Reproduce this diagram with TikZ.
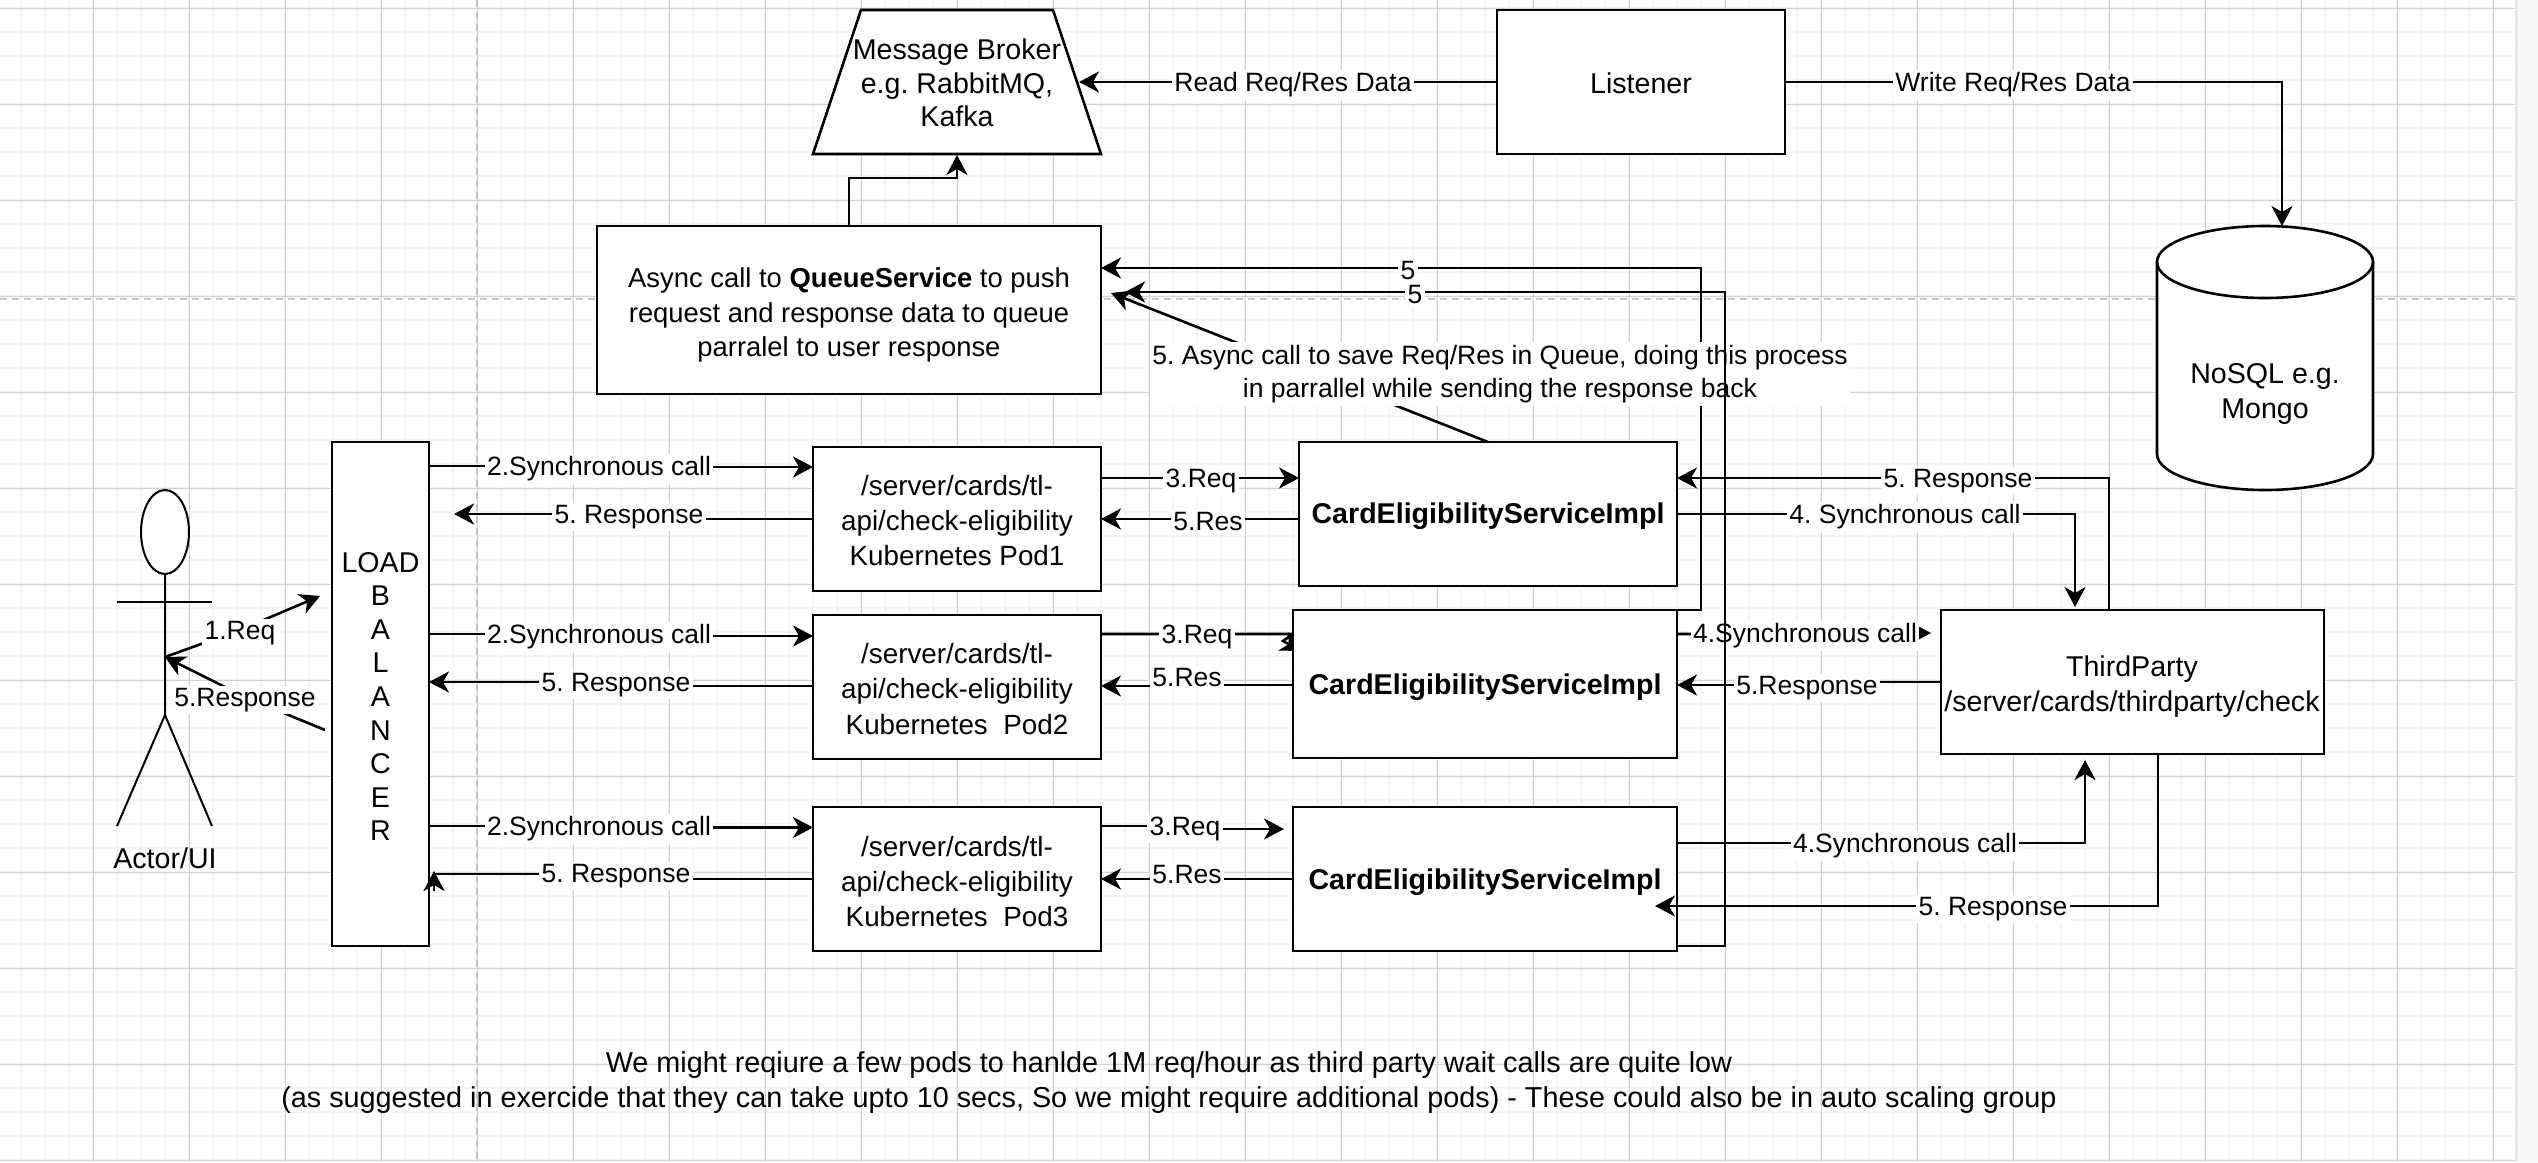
\documentclass[tikz,border=0pt]{standalone}
\usepackage{fontspec}
\setmainfont{Liberation Sans}
\usetikzlibrary{arrows.meta,shapes.geometric}
\pgfdeclarelayer{gridlayer}
\pgfdeclarelayer{backlayer}
\pgfsetlayers{gridlayer,backlayer,main}
\definecolor{gridmajor}{HTML}{D0D0D0}
\definecolor{gridminor}{HTML}{F5F5F5}
\definecolor{dashgray}{HTML}{C4C4C4}
\definecolor{sideband}{HTML}{F7F8FA}
\definecolor{sideedge}{HTML}{E8E8E8}
\newcommand{\bigfont}{\fontsize{14.3pt}{17.5pt}\selectfont}
\newcommand{\podfont}{\fontsize{13.9pt}{17.6pt}\selectfont}
\newcommand{\queuefont}{\fontsize{13.7pt}{17.3pt}\selectfont}
\newcommand{\labfont}{\fontsize{13.25pt}{16.8pt}\selectfont}
\newcommand{\tallfont}{\fontsize{14.3pt}{16.8pt}\selectfont}
\newcommand{\notefont}{\fontsize{14.4pt}{17.5pt}\selectfont}
\tikzset{
  sz/.style 2 args={minimum width=#1*0.5pt,minimum height=#2*0.5pt},
  boxnode/.style={draw=black,fill=white,line width=1.3pt,inner sep=0pt,outer sep=0pt},
  plaintext/.style={inner sep=0pt,outer sep=0pt,align=center,font=\bigfont},
  lab/.style={fill=white,inner sep=1.2pt,outer sep=0pt,align=center,font=\labfont,yshift=-1.5pt},
  conn/.style={draw=black,line width=1.3pt,-{Stealth[length=10pt,width=10.5pt,inset=3pt]}},
  plainline/.style={draw=black,line width=1.3pt},
  thin line/.style={draw=black,line width=1pt},
}
\begin{document}
\frenchspacing
\begin{tikzpicture}[x=0.5pt,y=-0.5pt]
\useasboundingbox (0,0) rectangle (2538,1162);
\begin{pgfonlayer}{gridlayer}
  \fill[white] (0,0) rectangle (2538,1162);
  \foreach \k in {0,...,105} {\draw[gridminor,line width=1pt] ({-3+\k*24},0) -- ({-3+\k*24},1162);}
  \foreach \k in {0,...,48} {\draw[gridminor,line width=1pt] (0,{8+\k*24}) -- (2516,{8+\k*24});}
  \foreach \k in {1,...,26} {\draw[gridmajor,line width=0.5pt] ({-3+\k*96},0) -- ({-3+\k*96},1162);}
  \foreach \k in {0,...,12} {\draw[gridmajor,line width=0.5pt] (0,{8+\k*96}) -- (2516,{8+\k*96});}
  \fill[sideband] (2516,0) rectangle (2538,1162);
  \fill[sideedge] (2515,0) rectangle (2518,1162);
  \draw[dashgray,line width=1.1pt,dash pattern=on 3.5pt off 2.5pt] (477,0) -- (477,1162);
  \draw[dashgray,line width=1.1pt,dash pattern=on 3.5pt off 2.5pt] (0,299) -- (2515,299);
\end{pgfonlayer}

% shapes drawn as paths
\filldraw[fill=white,draw=black,line width=1.3pt] (861,10) -- (1053,10) -- (1101,154) -- (813,154) -- cycle;
\filldraw[fill=white,draw=black,line width=1.3pt] (2157,262) -- (2157,454) arc[start angle=180,end angle=360,x radius=54pt,y radius=18pt] -- (2373,262) arc[start angle=0,end angle=180,x radius=54pt,y radius=18pt];
\draw[plainline] (2157,262) arc[start angle=180,end angle=360,x radius=54pt,y radius=18pt];

% nodes: boxes
\node[boxnode,sz={288}{144}] (listener) at (1641,82) {};
\node[boxnode,sz={504}{168}] (queue) at (849,310) {};
\node[boxnode,sz={97}{504}] (lb) at (380.5,694) {};
\node[boxnode,sz={288}{144}] (pod1) at (957,519) {};
\node[boxnode,sz={288}{144}] (pod2) at (957,687) {};
\node[boxnode,sz={288}{144}] (pod3) at (957,879) {};
\node[boxnode,sz={378}{144}] (card1) at (1488,514) {};
\node[boxnode,sz={384}{148}] (card2) at (1485,684) {};
\node[boxnode,sz={384}{144}] (card3) at (1485,879) {};
\node[boxnode,sz={383}{144}] (tp) at (2132.5,682) {};

% nodes: texts
\node[plaintext,font=\tallfont] (broker) at (957,83) {Message Broker\\e.g. RabbitMQ,\\Kafka};
\node[plaintext] (listenertext) at (1641,83) {Listener};
\node[plaintext] (dbtext) at (2265,394) {NoSQL e.g.\\Mongo};
\node[plaintext,font=\queuefont] (queuetext) at (849,315) {Async call to \textbf{QueueService} to push\\request and response data to queue\\parralel to user response};
\node[plaintext,font=\tallfont] (lbtext) at (380.5,696.5) {LOAD\\B\\A\\L\\A\\N\\C\\E\\R};
\node[plaintext,font=\podfont] (pod1text) at (957,520.5) {/server/cards/tl-\\api/check-eligibility\\Kubernetes Pod1};
\node[plaintext,font=\podfont] (pod2text) at (957,689) {/server/cards/tl-\\api/check-eligibility\\Kubernetes\ \ Pod2};
\node[plaintext,font=\podfont] (pod3text) at (957,881.5) {/server/cards/tl-\\api/check-eligibility\\Kubernetes\ \ Pod3};
\node[plaintext] (card1text) at (1488,516) {\textbf{CardEligibilityServiceImpl}};
\node[plaintext] (card2text) at (1485,687) {\textbf{CardEligibilityServiceImpl}};
\node[plaintext] (card3text) at (1485,882) {\textbf{CardEligibilityServiceImpl}};
\node[plaintext] (tptext) at (2132,687) {ThirdParty\\/server/cards/thirdparty/check};

% actor
\node[draw=black,fill=white,line width=1pt,ellipse,inner sep=0pt,sz={48}{84}] (head) at (165,532) {};
\coordinate (hip) at (165,715);
\coordinate (actorhit) at (165,657);
\coordinate (legl) at (117,826);
\coordinate (legr) at (212,826);
\coordinate (arml) at (117,602);
\coordinate (armr) at (212,602);
\draw[thin line] (head.south) -- (hip) -- (legl);
\draw[thin line] (hip) -- (legr);
\draw[thin line] (arml) -- (armr);
\node[plaintext] (actorlabel) at (165,858) {Actor/UI};

% free ends
\coordinate (lbreq) at (320,596);
\coordinate (lbres) at (325,730);
\coordinate (lbstub) at (454,514);
\coordinate (brokerright) at (1079,82);
\coordinate (brokerbottom) at (957,155);
\coordinate (queueasync) at (1111,293);
\coordinate (queuein) at (1125,292);

% actor arrows
\draw[conn] (actorhit) -- (240,630) node[lab] (l1) {1.Req} -- (lbreq);
\draw[conn] (lbres) -- (245,697) node[lab] (l2) {5.Response} -- (actorhit);

% under card 2
\begin{pgfonlayer}{backlayer}
\draw[conn] (pod2.east |- 0,634) -- (1293,634) -- (1283,641) -- (1301,651);
\end{pgfonlayer}
\node[lab] (l3) at (1197,634) {3.Req};

% first return to queue, passes under the async label
\draw[conn] (card2.north east) -- (1701,610) -- (1701,268) -- (1408,268) node[lab] (l4) {5} -- (queue.east |- 0,268);

% async call
\draw[conn] (card1.north) -- (queueasync);
\node[lab] (l5) at (1500,371) {5. Async call to save Req/Res in Queue, doing this process\\in parrallel while sending the response back};

% broker, listener, db
\draw[conn] (queue.north) -- (849,178) -- (957,178) -- (brokerbottom);
\draw[conn] (listener.west) -- (1293,82) node[lab] (l6) {Read Req/Res Data} -- (brokerright);
\draw[conn] (listener.east) -- (2013,82) node[lab] (l7) {Write Req/Res Data} -- (2282,82) -- (2282,226);

% LB to pods
\draw[conn] (lb.east |- 0,466) -- (599,466) node[lab] (l8) {2.Synchronous call} -- (599,467) -- (pod1.west |- 0,467);
\draw[conn] (pod1.west |- 0,519) -- (629,519) -- (629,514) node[lab] (l9) {5. Response} -- (lbstub);
\draw[conn] (lb.east |- 0,634) -- (599,634) node[lab] (l10) {2.Synchronous call} -- (599,636) -- (pod2.west |- 0,636);
\draw[conn] (pod2.west |- 0,686) -- (616,686) -- (616,682) node[lab] (l11) {5. Response} -- (lb.east |- 0,682);
\draw[conn] (lb.east |- 0,826) -- (599,826) node[lab] (l12) {2.Synchronous call} -- (599,827.5) -- (pod3.west |- 0,827.5);
\draw[plainline] (pod3.west |- 0,879) -- (616,879) -- (616,874) -- (434,874);
\draw[conn] (434,891) -- (434,871);
\node[lab] (l13) at (616,873) {5. Response};

% pods to cards
\draw[conn] (pod1.east |- 0,478) -- (1201,478) node[lab] (l14) {3.Req} -- (card1.west |- 0,478);
\draw[conn] (card1.west |- 0,519) -- (1208,519) node[lab] (l15) {5.Res} -- (pod1.east |- 0,519);
\draw[conn] (card2.west |- 0,685) -- (1187,685) -- (1187,686) -- (pod2.east |- 0,686);
\node[lab] (l16) at (1187,675) {5.Res};
\draw[conn] (pod3.east |- 0,826) -- (1185,826) node[lab] (l17) {3.Req} -- (1185,829) -- (1284,829);
\draw[conn] (card3.west |- 0,879) -- (pod3.east |- 0,879);
\node[lab] (l18) at (1187,872) {5.Res};

% cards to third party
\draw[conn] (tp.north -| 2109,0) -- (2109,478) -- (1958,478) node[lab] (l19) {5. Response} -- (card1.east |- 0,478);
\draw[conn] (card1.east |- 0,514) -- (1905,514) node[lab] (l20) {4. Synchronous call} -- (2075,514) -- (2075,607);
\draw[conn] (card2.east |- 0,634) -- (1931,633);
\node[lab] (l21) at (1805,633) {4.Synchronous call};
\draw[conn] (tp.west |- 0,682) -- (1807,682) -- (1807,685) node[lab] (l22) {5.Response} -- (card2.east |- 0,685);
\draw[conn] (card3.east |- 0,843) -- (1905,843) node[lab] (l23) {4.Synchronous call} -- (2085,843) -- (2085,760);
\draw[conn] (tp.south -| 2158,0) -- (2158,906) -- (1993,906) node[lab] (l24) {5. Response} -- (1655,906);

% second return to queue, on top of the labels it crosses
\draw[conn] (card3.east |- 0,946) -- (1725,946) -- (1725,292) -- (1415,292) node[lab] (l25) {5} -- (queuein);

% note
\node[plaintext,font=\notefont] (note) at (1169,1083) {We might reqiure a few pods to hanlde 1M req/hour as third party wait calls are quite low\\(as suggested in exercide that they can take upto 10 secs, So we might require additional pods) - These could also be in auto scaling group};
\end{tikzpicture}
\end{document}
